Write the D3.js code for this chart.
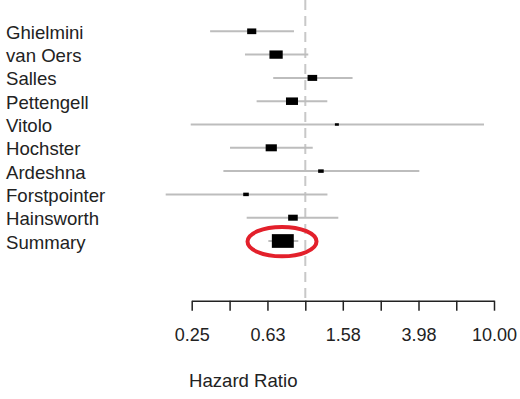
<!DOCTYPE html>
<html>
<head>
<meta charset="utf-8">
<script src="https://cdn.jsdelivr.net/npm/d3@7"></script>
<style>
  body { margin: 0; background: #fff; }
  svg text { font-family: "Liberation Sans", Arial, sans-serif; fill: #222; }
</style>
</head>
<body>
<div id="chart"></div>
<script>
// study rows, top to bottom
const studies = ["Ghielmini", "van Oers", "Salles", "Pettengell", "Vitolo",
  "Hochster", "Ardeshna", "Forstpointer", "Hainsworth", "Summary"];
// hazard ratio point estimates and 95% CI
const estimates = [0.52, 0.70, 1.09, 0.85, 1.47, 0.66, 1.21, 0.485, 0.86, 0.76];
const lower = [0.313, 0.479, 0.676, 0.552, 0.247, 0.399, 0.368, 0.182, 0.489, 0.637];
const upper = [0.871, 1.037, 1.78, 1.308, 8.85, 1.095, 4.02, 1.31, 1.496, 0.918];
// relative weight (%) -> box size
const weights = [17.3, 36.7, 19.2, 30, 3.3, 26.1, 6.5, 6.5, 19.2, 100];
// axis ticks (log spaced) and which are labelled
const tickValues = [0.25, 0.397, 0.63, 1.0, 1.58, 2.51, 3.98, 6.31, 10.0];
const tickLabels = ["0.25", "", "0.63", "", "1.58", "", "3.98", "", "10.00"];

const width = 520, height = 399;

const svg = d3.select("#chart").append("svg")
  .attr("width", width)
  .attr("height", height);

const x = d3.scaleLog().domain([0.25, 10]).range([191.7, 494]);
const y = d3.scalePoint().domain(studies).range([31.3, 241]);
const boxH = d3.scaleSqrt().domain([0, 100]).range([0, 13.7]);

const rows = studies.map((s, i) => ({
  study: s, est: estimates[i], lo: lower[i], hi: upper[i], w: weights[i]
}));

const axisY = 300.7;

// null line at HR = 1
svg.append("line")
  .attr("x1", x(1)).attr("x2", x(1))
  .attr("y1", 0).attr("y2", axisY)
  .attr("stroke", "#c8c8c8")
  .attr("stroke-width", 2)
  .attr("stroke-dasharray", "10,6");

// confidence intervals
svg.selectAll(".ci").data(rows).enter().append("line")
  .attr("class", "ci")
  .attr("x1", d => x(d.lo)).attr("x2", d => x(d.hi))
  .attr("y1", d => y(d.study)).attr("y2", d => y(d.study))
  .attr("stroke", "#bdbdbd")
  .attr("stroke-width", 2);

// point estimate boxes
svg.selectAll(".box").data(rows).enter().append("rect")
  .attr("class", "box")
  .attr("x", d => x(d.est) - boxH(d.w) * 0.8)
  .attr("y", d => y(d.study) - boxH(d.w) / 2)
  .attr("width", d => boxH(d.w) * 1.6)
  .attr("height", d => boxH(d.w))
  .attr("fill", "#000");

// study labels
svg.selectAll(".label").data(rows).enter().append("text")
  .attr("class", "label")
  .attr("x", 6)
  .attr("y", d => y(d.study) + 7.5)
  .style("font-size", "18.6px")
  .text(d => d.study);

// highlight around the summary estimate
const summary = rows[rows.length - 1];
svg.append("ellipse")
  .attr("cx", x(summary.est) - 0.8)
  .attr("cy", y(summary.study) + 0.6)
  .attr("rx", 34.5)
  .attr("ry", 14.7)
  .attr("fill", "none")
  .attr("stroke", "#e3202b")
  .attr("stroke-width", 4);

// x axis
const axis = svg.append("g")
  .attr("transform", `translate(0,${axisY})`)
  .call(d3.axisBottom(x)
    .tickValues(tickValues)
    .tickFormat((d, i) => tickLabels[i])
    .tickSize(10)
    .tickSizeOuter(0)
    .tickPadding(18));

axis.select(".domain").attr("stroke", "#222").attr("stroke-width", 1.5);
axis.selectAll(".tick line").attr("stroke", "#222").attr("stroke-width", 1.5);
axis.selectAll(".tick text")
  .style("font-size", "18px")
  .style("font-family", "Liberation Sans, Arial, sans-serif")
  .attr("fill", "#222");

svg.append("text")
  .attr("x", 189)
  .attr("y", 386.7)
  .style("font-size", "18.6px")
  .text("Hazard Ratio");
</script>
</body>
</html>
